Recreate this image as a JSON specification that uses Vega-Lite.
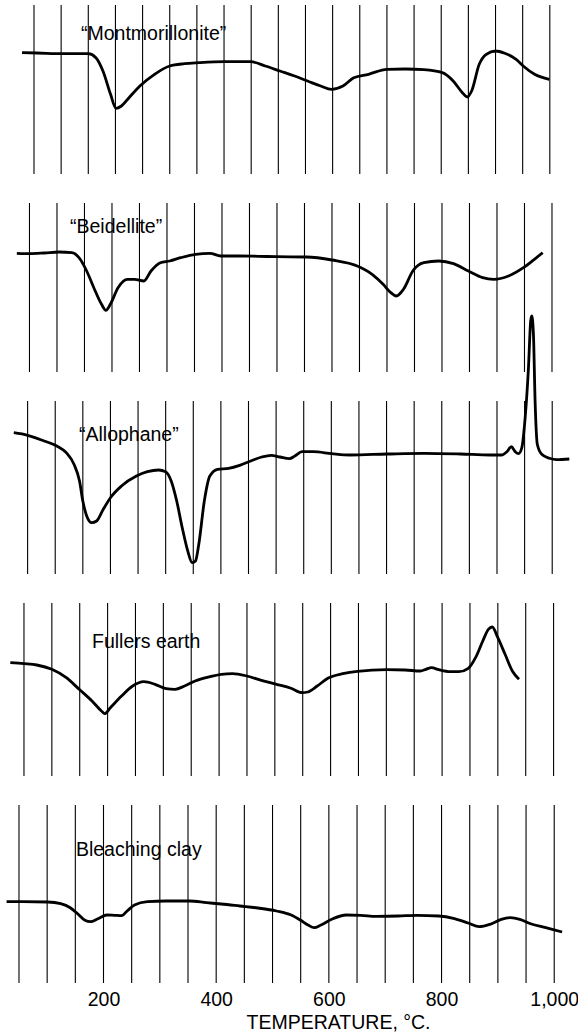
{
  "$schema": "https://vega.github.io/schema/vega-lite/v6.json",
  "padding": {"top": 4, "left": 0, "right": 0, "bottom": 0},
  "spacing": 29,
  "bounds": "flush",
  "config": {
    "view": {"stroke": null},
    "font": "Liberation Sans",
    "axis": {"grid": false, "domain": false, "ticks": false, "tickSize": 0}
  },
  "datasets": {
    "grid": [
      {"T": 50}, {"T": 100}, {"T": 150}, {"T": 200}, {"T": 250}, {"T": 300}, {"T": 350}, {"T": 400}, {"T": 450}, {"T": 500},
      {"T": 550}, {"T": 600}, {"T": 650}, {"T": 700}, {"T": 750}, {"T": 800}, {"T": 850}, {"T": 900}, {"T": 950}, {"T": 1000}
    ],
    "mont": [
      {"T": 28, "v": 121.3}, {"T": 55, "v": 121}, {"T": 103, "v": 120.3}, {"T": 150, "v": 120.3}, {"T": 164, "v": 116.3},
      {"T": 177, "v": 103}, {"T": 191, "v": 79.7}, {"T": 201, "v": 65.7}, {"T": 211, "v": 68}, {"T": 225, "v": 76.3},
      {"T": 245, "v": 88}, {"T": 272, "v": 99.7}, {"T": 300, "v": 108}, {"T": 327, "v": 110.3}, {"T": 354, "v": 111.3},
      {"T": 401, "v": 112.3}, {"T": 449, "v": 112.3}, {"T": 476, "v": 108}, {"T": 503, "v": 103}, {"T": 530, "v": 98},
      {"T": 558, "v": 92}, {"T": 578, "v": 88}, {"T": 598, "v": 84.7}, {"T": 619, "v": 88}, {"T": 639, "v": 96.3},
      {"T": 666, "v": 99.7}, {"T": 700, "v": 104.7}, {"T": 734, "v": 105}, {"T": 768, "v": 104.3}, {"T": 802, "v": 101.3},
      {"T": 822, "v": 93}, {"T": 839, "v": 81.3}, {"T": 848, "v": 77}, {"T": 856, "v": 83}, {"T": 870, "v": 109.7},
      {"T": 883, "v": 119.7}, {"T": 900, "v": 123}, {"T": 917, "v": 120.7}, {"T": 938, "v": 114.7}, {"T": 951, "v": 108},
      {"T": 972, "v": 99.7}, {"T": 999, "v": 94.7}
    ],
    "beid": [
      {"T": 27, "v": 118.7}, {"T": 50, "v": 118.3}, {"T": 77, "v": 119}, {"T": 104, "v": 120}, {"T": 127, "v": 119.3},
      {"T": 140, "v": 114.3}, {"T": 154, "v": 101}, {"T": 167, "v": 84.3}, {"T": 181, "v": 67.7}, {"T": 189, "v": 61.7},
      {"T": 197, "v": 67.7}, {"T": 211, "v": 84.3}, {"T": 228, "v": 92.7}, {"T": 241, "v": 92.7}, {"T": 258, "v": 91},
      {"T": 271, "v": 101}, {"T": 288, "v": 109.3}, {"T": 305, "v": 111}, {"T": 325, "v": 114.3}, {"T": 352, "v": 117.7},
      {"T": 378, "v": 118.7}, {"T": 398, "v": 116}, {"T": 432, "v": 116}, {"T": 466, "v": 115.7}, {"T": 499, "v": 115.3},
      {"T": 553, "v": 115}, {"T": 600, "v": 112}, {"T": 646, "v": 106}, {"T": 673, "v": 97.7}, {"T": 693, "v": 87.7},
      {"T": 707, "v": 79.3}, {"T": 717, "v": 76}, {"T": 730, "v": 82.7}, {"T": 747, "v": 101}, {"T": 767, "v": 109.3},
      {"T": 794, "v": 111}, {"T": 821, "v": 108.3}, {"T": 848, "v": 101}, {"T": 874, "v": 94.3}, {"T": 894, "v": 92.7},
      {"T": 921, "v": 96}, {"T": 948, "v": 104.3}, {"T": 968, "v": 112.7}, {"T": 983, "v": 119.3}
    ],
    "allo": [
      {"T": 25, "v": 141.3}, {"T": 50, "v": 138.7}, {"T": 80, "v": 133}, {"T": 103, "v": 128}, {"T": 120, "v": 121.3},
      {"T": 134, "v": 109.7}, {"T": 144, "v": 93}, {"T": 150, "v": 73}, {"T": 157, "v": 58}, {"T": 166, "v": 51.3},
      {"T": 175, "v": 53}, {"T": 187, "v": 64.7}, {"T": 200, "v": 76.3}, {"T": 220, "v": 88}, {"T": 247, "v": 98},
      {"T": 267, "v": 102.3}, {"T": 287, "v": 104}, {"T": 300, "v": 102.3}, {"T": 310, "v": 93}, {"T": 320, "v": 73},
      {"T": 330, "v": 46.3}, {"T": 340, "v": 23}, {"T": 348, "v": 11.3}, {"T": 354, "v": 13}, {"T": 360, "v": 29.7},
      {"T": 370, "v": 73}, {"T": 380, "v": 98}, {"T": 394, "v": 104.7}, {"T": 414, "v": 105.7}, {"T": 434, "v": 108.7},
      {"T": 454, "v": 113}, {"T": 474, "v": 117}, {"T": 491, "v": 118.7}, {"T": 507, "v": 117}, {"T": 524, "v": 115.3},
      {"T": 534, "v": 118}, {"T": 547, "v": 122.3}, {"T": 567, "v": 122.3}, {"T": 601, "v": 120.3}, {"T": 634, "v": 119},
      {"T": 701, "v": 120}, {"T": 768, "v": 120.7}, {"T": 834, "v": 120}, {"T": 888, "v": 119}, {"T": 908, "v": 119},
      {"T": 918, "v": 122.3}, {"T": 926, "v": 127.3}, {"T": 933, "v": 122.3}, {"T": 939, "v": 120.3}, {"T": 945, "v": 126.3},
      {"T": 951, "v": 156.3}, {"T": 957, "v": 206.3}, {"T": 961, "v": 253}, {"T": 963, "v": 258}, {"T": 966, "v": 239.7},
      {"T": 969, "v": 173}, {"T": 973, "v": 129.7}, {"T": 981, "v": 119.7}, {"T": 995, "v": 115.7}, {"T": 1008, "v": 114.3},
      {"T": 1031, "v": 115}
    ],
    "full": [
      {"T": 25.5, "v": 113.3}, {"T": 50, "v": 112.3}, {"T": 73, "v": 111}, {"T": 100, "v": 106.7}, {"T": 126, "v": 98.3},
      {"T": 149, "v": 86.7}, {"T": 172, "v": 75}, {"T": 189, "v": 65}, {"T": 195, "v": 62.3}, {"T": 205, "v": 68.3},
      {"T": 225, "v": 80}, {"T": 245, "v": 90}, {"T": 265, "v": 94.3}, {"T": 285, "v": 91.7}, {"T": 305, "v": 87.3},
      {"T": 321, "v": 86.7}, {"T": 338, "v": 90}, {"T": 357, "v": 95}, {"T": 384, "v": 99.3}, {"T": 404, "v": 101.7},
      {"T": 424, "v": 102.3}, {"T": 450, "v": 100}, {"T": 476, "v": 95.7}, {"T": 503, "v": 91.7}, {"T": 529, "v": 87.7},
      {"T": 549, "v": 83.3}, {"T": 559, "v": 84}, {"T": 576, "v": 90}, {"T": 595, "v": 97.7}, {"T": 622, "v": 102.3},
      {"T": 648, "v": 104.7}, {"T": 701, "v": 106.3}, {"T": 734, "v": 106}, {"T": 761, "v": 105}, {"T": 771, "v": 106.7},
      {"T": 781, "v": 108.3}, {"T": 794, "v": 106.3}, {"T": 814, "v": 104.3}, {"T": 830, "v": 104.3}, {"T": 847, "v": 107.7},
      {"T": 860, "v": 118.3}, {"T": 873, "v": 135}, {"T": 883, "v": 146.7}, {"T": 890, "v": 149}, {"T": 900, "v": 138.3},
      {"T": 913, "v": 121.7}, {"T": 926, "v": 105}, {"T": 938, "v": 96.7}
    ],
    "blea": [
      {"T": 28, "v": 81.3}, {"T": 56, "v": 81.3}, {"T": 101, "v": 81}, {"T": 124, "v": 79.3}, {"T": 141, "v": 75.3},
      {"T": 154, "v": 69.3}, {"T": 167, "v": 62.7}, {"T": 177, "v": 61.3}, {"T": 190, "v": 64.3}, {"T": 206, "v": 68},
      {"T": 219, "v": 67.7}, {"T": 232, "v": 67.3}, {"T": 242, "v": 72}, {"T": 255, "v": 78}, {"T": 278, "v": 81.3},
      {"T": 311, "v": 82}, {"T": 353, "v": 82}, {"T": 383, "v": 80.3}, {"T": 409, "v": 79}, {"T": 442, "v": 77},
      {"T": 474, "v": 75}, {"T": 507, "v": 72}, {"T": 533, "v": 68}, {"T": 550, "v": 62.7}, {"T": 563, "v": 58},
      {"T": 574, "v": 55.3}, {"T": 586, "v": 58}, {"T": 605, "v": 63.7}, {"T": 631, "v": 68}, {"T": 657, "v": 67.7},
      {"T": 684, "v": 66.7}, {"T": 723, "v": 67}, {"T": 756, "v": 67.7}, {"T": 795, "v": 67}, {"T": 821, "v": 64.7},
      {"T": 847, "v": 60}, {"T": 867, "v": 56.3}, {"T": 886, "v": 58.7}, {"T": 906, "v": 63.7}, {"T": 922, "v": 65.3},
      {"T": 939, "v": 63.7}, {"T": 958, "v": 59.3}, {"T": 985, "v": 55.3}, {"T": 1014, "v": 51}
    ]
  },
  "vconcat": [
    {
      "width": 578, "height": 169,
      "layer": [
        {
          "data": {"name": "grid"},
          "mark": {"type": "rule", "color": "#000000", "strokeWidth": 1.1},
          "encoding": {
            "x": {"field": "T", "type": "quantitative", "scale": {"domain": [-12.6, 1051.9], "nice": false, "zero": false}, "axis": null}
          }
        },
        {
          "data": {"name": "mont"},
          "mark": {"type": "line", "interpolate": "monotone", "color": "#000000", "strokeWidth": 2.8},
          "encoding": {
            "x": {"field": "T", "type": "quantitative", "axis": null},
            "y": {"field": "v", "type": "quantitative", "scale": {"domain": [0, 169], "nice": false, "zero": false}, "axis": null}
          }
        },
        {
          "data": {"values": [{"label": "“Montmorillonite”"}]},
          "mark": {"type": "text", "align": "left", "baseline": "middle", "fontSize": 19.5, "font": "Liberation Sans", "color": "#000000"},
          "encoding": {
            "x": {"datum": 136.6, "type": "quantitative"},
            "y": {"datum": 140, "type": "quantitative"},
            "text": {"field": "label"}
          }
        }
      ]
    },
    {
      "width": 578, "height": 169,
      "layer": [
        {
          "data": {"name": "grid"},
          "mark": {"type": "rule", "color": "#000000", "strokeWidth": 1.1},
          "encoding": {
            "x": {"field": "T", "type": "quantitative", "scale": {"domain": [-3.6, 1047.3], "nice": false, "zero": false}, "axis": null}
          }
        },
        {
          "data": {"name": "beid"},
          "mark": {"type": "line", "interpolate": "monotone", "color": "#000000", "strokeWidth": 2.8},
          "encoding": {
            "x": {"field": "T", "type": "quantitative", "axis": null},
            "y": {"field": "v", "type": "quantitative", "scale": {"domain": [0, 169], "nice": false, "zero": false}, "axis": null}
          }
        },
        {
          "data": {"values": [{"label": "“Beidellite”"}]},
          "mark": {"type": "text", "align": "left", "baseline": "middle", "fontSize": 19.5, "font": "Liberation Sans", "color": "#000000"},
          "encoding": {
            "x": {"datum": 123.7, "type": "quantitative"},
            "y": {"datum": 145, "type": "quantitative"},
            "text": {"field": "label"}
          }
        }
      ]
    },
    {
      "width": 578, "height": 173,
      "layer": [
        {
          "data": {"name": "grid"},
          "mark": {"type": "rule", "color": "#000000", "strokeWidth": 1.1},
          "encoding": {
            "x": {"field": "T", "type": "quantitative", "scale": {"domain": [0, 1046.7], "nice": false, "zero": false}, "axis": null}
          }
        },
        {
          "data": {"name": "allo"},
          "mark": {"type": "line", "interpolate": "monotone", "color": "#000000", "strokeWidth": 2.8},
          "encoding": {
            "x": {"field": "T", "type": "quantitative", "axis": null},
            "y": {"field": "v", "type": "quantitative", "scale": {"domain": [0, 173], "nice": false, "zero": false}, "axis": null}
          }
        },
        {
          "data": {"values": [{"label": "“Allophane”"}]},
          "mark": {"type": "text", "align": "left", "baseline": "middle", "fontSize": 19.5, "font": "Liberation Sans", "color": "#000000"},
          "encoding": {
            "x": {"datum": 143, "type": "quantitative"},
            "y": {"datum": 139, "type": "quantitative"},
            "text": {"field": "label"}
          }
        }
      ]
    },
    {
      "width": 578, "height": 173,
      "layer": [
        {
          "data": {"name": "grid"},
          "mark": {"type": "rule", "color": "#000000", "strokeWidth": 1.1},
          "encoding": {
            "x": {"field": "T", "type": "quantitative", "scale": {"domain": [7, 1043.8], "nice": false, "zero": false}, "axis": null}
          }
        },
        {
          "data": {"name": "full"},
          "mark": {"type": "line", "interpolate": "monotone", "color": "#000000", "strokeWidth": 2.8},
          "encoding": {
            "x": {"field": "T", "type": "quantitative", "axis": null},
            "y": {"field": "v", "type": "quantitative", "scale": {"domain": [0, 173], "nice": false, "zero": false}, "axis": null}
          }
        },
        {
          "data": {"values": [{"label": "Fullers earth"}]},
          "mark": {"type": "text", "align": "left", "baseline": "middle", "fontSize": 19.5, "font": "Liberation Sans", "color": "#000000"},
          "encoding": {
            "x": {"datum": 172, "type": "quantitative"},
            "y": {"datum": 134, "type": "quantitative"},
            "text": {"field": "label"}
          }
        }
      ]
    },
    {
      "width": 578, "height": 178,
      "layer": [
        {
          "data": {"name": "grid"},
          "mark": {"type": "rule", "color": "#000000", "strokeWidth": 1.1},
          "encoding": {
            "x": {"field": "T", "type": "quantitative", "scale": {"domain": [16.3, 1042.2], "nice": false, "zero": false},
                  "axis": {"values": [200, 400, 600, 800, 1000], "format": ",.0f",
                           "labelFontSize": 19.5, "labelFont": "Liberation Sans", "labelColor": "#000000", "labelPadding": 7,
                           "labelOverlap": false, "labelFlush": false,
                           "title": "TEMPERATURE, °C.", "titleFontSize": 19.5, "titleFontWeight": "normal", "titleFont": "Liberation Sans",
                           "titleColor": "#000000", "titleX": 338, "titleY": 45, "titleAlign": "center", "titleBaseline": "alphabetic"}}
          }
        },
        {
          "data": {"name": "blea"},
          "mark": {"type": "line", "interpolate": "monotone", "color": "#000000", "strokeWidth": 2.8},
          "encoding": {
            "x": {"field": "T", "type": "quantitative"},
            "y": {"field": "v", "type": "quantitative", "scale": {"domain": [0, 178], "nice": false, "zero": false}, "axis": null}
          }
        },
        {
          "data": {"values": [{"label": "Bleaching clay"}]},
          "mark": {"type": "text", "align": "left", "baseline": "middle", "fontSize": 19.5, "font": "Liberation Sans", "color": "#000000"},
          "encoding": {
            "x": {"datum": 151, "type": "quantitative"},
            "y": {"datum": 133, "type": "quantitative"},
            "text": {"field": "label"}
          }
        }
      ]
    }
  ]
}
